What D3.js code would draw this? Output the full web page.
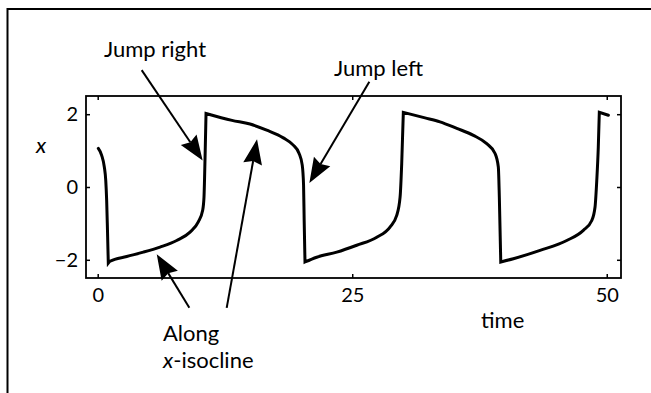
<!DOCTYPE html>
<html>
<head>
<meta charset="utf-8">
<script src="https://cdn.jsdelivr.net/npm/d3@7"></script>
<style>
  html, body { margin: 0; padding: 0; background: #fff; }
  svg { display: block; }
  text { font-family: Lato, "Open Sans", sans-serif; font-weight: 400; fill: #000; }
</style>
</head>
<body>
<svg id="chart" width="651" height="393"></svg>
<script>
// Relaxation oscillation: x against time
const timeValues = [
  0.06, 0.39, 0.65, 0.79, 0.88, 0.96, 1.04,
  1.21, 2.85, 4.48, 6.12, 7.76, 9.07, 9.88, 10.31, 10.44, 10.49, 10.56, 10.64,
  13.19, 14.96, 16.60, 18.23, 19.21, 19.77, 20.09, 20.22, 20.28, 20.36,
  21.51, 23.48, 25.44, 27.41, 28.71, 29.37, 29.70, 29.86, 30.02,
  32.15, 33.62, 35.27, 36.90, 38.21, 39.03, 39.35, 39.45, 39.59,
  40.83, 43.45, 46.07, 47.70, 48.53, 48.85, 49.02, 49.17, 49.27, 50.16
];
const xValues = [
  1.06, 0.87, 0.55, 0.18, -0.37, -1.19, -2.09,
  -2.04, -1.91, -1.79, -1.65, -1.47, -1.24, -0.96, -0.64, -0.28, 0.18, 1.01, 2.02,
  1.83, 1.73, 1.56, 1.35, 1.15, 0.93, 0.60, 0.05, -0.92, -2.06,
  -1.93, -1.79, -1.60, -1.38, -1.10, -0.78, -0.28, 0.64, 2.05,
  1.90, 1.79, 1.61, 1.42, 1.19, 0.92, 0.55, -0.28, -2.06,
  -1.97, -1.74, -1.47, -1.19, -0.92, -0.55, 0.18, 1.10, 2.05, 1.97
];
const timeTicks = [0, 25, 50];
const xTicks = [-2, 0, 2];

// Annotation arrows (tail -> tip, in data units)
const arrowNames = ["jumpRight", "jumpLeft", "alongLow", "alongHigh"];
const arrowTail = [[4.32, 3.21], [26.68, 2.89], [9.0, -3.32], [12.67, -3.32]];
const arrowTip  = [[10.31, 0.73], [20.79, 0.11], [5.80, -1.85], [15.65, 1.31]];

const svg = d3.select("#chart");

const xScale = d3.scaleLinear().domain([-1.15, 51.4]).range([86, 621]);
const yScale = d3.scaleLinear().domain([-2.5, 2.5]).range([278, 96]);

// outer frame (top and left edges)
svg.append("path")
  .attr("d", "M651,9H7.5V393")
  .attr("fill", "none").attr("stroke", "#000").attr("stroke-width", 2);

// plot box
svg.append("rect")
  .attr("x", xScale.range()[0]).attr("y", yScale.range()[1])
  .attr("width", xScale.range()[1] - xScale.range()[0])
  .attr("height", yScale.range()[0] - yScale.range()[1])
  .attr("fill", "none").attr("stroke", "#000").attr("stroke-width", 1.8);

// axes with inward ticks
const tickLen = 4;
const bottomAxis = d3.axisBottom(xScale).tickValues(timeTicks).tickSizeInner(-tickLen).tickSizeOuter(0).tickPadding(10);
const topAxis = d3.axisTop(xScale).tickValues(timeTicks).tickSizeInner(-tickLen).tickSizeOuter(0).tickFormat("");
const leftAxis = d3.axisLeft(yScale).tickValues(xTicks).tickSizeInner(-tickLen).tickSizeOuter(0).tickPadding(8)
  .tickFormat(d => d < 0 ? "\u2212" + Math.abs(d) : String(d));
const rightAxis = d3.axisRight(yScale).tickValues(xTicks).tickSizeInner(-tickLen).tickSizeOuter(0).tickFormat("");

function styleAxis(g) {
  g.select(".domain").remove();
  g.selectAll(".tick line").attr("stroke", "#000").attr("stroke-width", 1.5);
  g.selectAll(".tick text").attr("font-size", 20).attr("font-family", "Lato, sans-serif")
    .attr("font-weight", 400).attr("fill", "#000");
}
svg.append("g").attr("transform", `translate(0,${yScale.range()[0]})`).call(bottomAxis).call(styleAxis);
svg.append("g").attr("transform", `translate(0,${yScale.range()[1]})`).call(topAxis).call(styleAxis);
svg.append("g").attr("transform", `translate(${xScale.range()[0]},0)`).call(leftAxis).call(styleAxis);
svg.append("g").attr("transform", `translate(${xScale.range()[1]},0)`).call(rightAxis).call(styleAxis);

// axis titles
svg.append("text").attr("x", 36).attr("y", 153).attr("font-size", 22).attr("font-style", "italic").text("x");
svg.append("text").attr("x", 481).attr("y", 328).attr("font-size", 22).text("time");

// trajectory: split at the turning points so each branch is smoothed
// on its own and the corners after each jump stay sharp
const points = timeValues.map((t, i) => [t, xValues[i]]);
const branches = [];
let start = 0;
for (let i = 1; i < points.length - 1; i++) {
  const a = points[i - 1][1], b = points[i][1], c = points[i + 1][1];
  if ((b - a) * (c - b) < 0) {
    branches.push(points.slice(start, i + 1));
    start = i;
  }
}
branches.push(points.slice(start));

const branchLine = d3.line()
  .x(d => xScale(d[0])).y(d => yScale(d[1]))
  .curve(d3.curveMonotoneX);

const pathData = branches.map(b => branchLine(b)).map((d, i) => i === 0 ? d : d.replace(/^M[^A-Za-z]*/, "")).join("");
svg.append("path")
  .attr("d", pathData)
  .attr("fill", "none").attr("stroke", "#000").attr("stroke-width", 3)
  .attr("stroke-linejoin", "miter").attr("stroke-miterlimit", 3).attr("stroke-linecap", "round");

// annotation arrows
const headLen = 25, headHalf = 9.5, notch = 3;
arrowNames.forEach((name, i) => {
  const x0 = xScale(arrowTail[i][0]), y0 = yScale(arrowTail[i][1]);
  const x1 = xScale(arrowTip[i][0]), y1 = yScale(arrowTip[i][1]);
  const len = Math.hypot(x1 - x0, y1 - y0);
  const ux = (x1 - x0) / len, uy = (y1 - y0) / len;
  const px = -uy, py = ux;
  const bx = x1 - ux * headLen, by = y1 - uy * headLen;
  const g = svg.append("g").attr("class", "arrow " + name);
  g.append("line")
    .attr("x1", x0).attr("y1", y0)
    .attr("x2", bx + ux * notch).attr("y2", by + uy * notch)
    .attr("stroke", "#000").attr("stroke-width", 2);
  g.append("path")
    .attr("d", `M${x1},${y1}L${bx + px * headHalf},${by + py * headHalf}L${bx + ux * notch},${by + uy * notch}L${bx - px * headHalf},${by - py * headHalf}Z`)
    .attr("fill", "#000");
});

// annotation labels
svg.append("text").attr("x", 104).attr("y", 57).attr("font-size", 22).text("Jump right");
svg.append("text").attr("x", 334).attr("y", 76).attr("font-size", 22).text("Jump left");
svg.append("text").attr("x", 163).attr("y", 341).attr("font-size", 22).text("Along");
const iso = svg.append("text").attr("x", 163).attr("y", 368).attr("font-size", 22);
iso.append("tspan").attr("font-style", "italic").text("x");
iso.append("tspan").text("-isocline");
</script>
</body>
</html>
